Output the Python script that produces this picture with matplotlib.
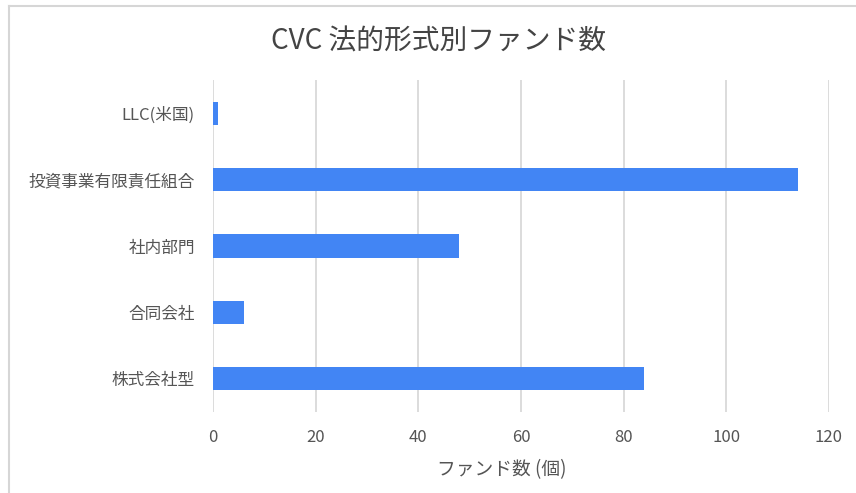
import matplotlib
matplotlib.use('Agg')
import matplotlib.pyplot as plt
from matplotlib.lines import Line2D

plt.rcParams['font.family'] = ['Noto Sans CJK JP', 'DejaVu Sans']

# データ (上から順)
categories = ['LLC(米国)', '投資事業有限責任組合', '社内部門', '合同会社', '株式会社型']
funds = [1, 114, 48, 6, 84]
xticks = [0, 20, 40, 60, 80, 100, 120]

fig = plt.figure(figsize=(8.56, 4.93), dpi=100)
ax = fig.add_axes([213 / 856, 1 - 412 / 493, (829 - 213) / 856, (412 - 80) / 493])

ypos = list(range(len(categories)))[::-1]
ax.barh(ypos, funds, height=0.35, color='#4285F4', zorder=3)

ax.set_xlim(0, 120)
ax.set_ylim(-0.5, len(categories) - 0.5)
ax.set_xticks(xticks)
ax.set_yticks(ypos)
ax.set_yticklabels(categories)
ax.tick_params(axis='both', length=0, colors='#555555', labelsize=12)
ax.tick_params(axis='x', pad=12)
ax.tick_params(axis='y', pad=13)
ax.grid(axis='x', color='#d9d9d9', linewidth=1.3, zorder=0)
for s in ax.spines.values():
    s.set_visible(False)

fig.text(0.512, 1 - 42 / 493, 'CVC 法的形式別ファンド数', ha='center', va='center',
         fontsize=20, color='#444444')
fig.text(502 / 856, 1 - 470 / 493, 'ファンド数 (個)', ha='center', va='center',
         fontsize=13.5, color='#555555')

# 枠線
fig.add_artist(Line2D([9 / 856, 1], [1 - 6 / 493, 1 - 6 / 493], color='#d6d6d6', linewidth=1.5))
fig.add_artist(Line2D([9 / 856, 9 / 856], [0, 1 - 6 / 493], color='#d6d6d6', linewidth=1.5))

fig.savefig('out.png', dpi=100)
